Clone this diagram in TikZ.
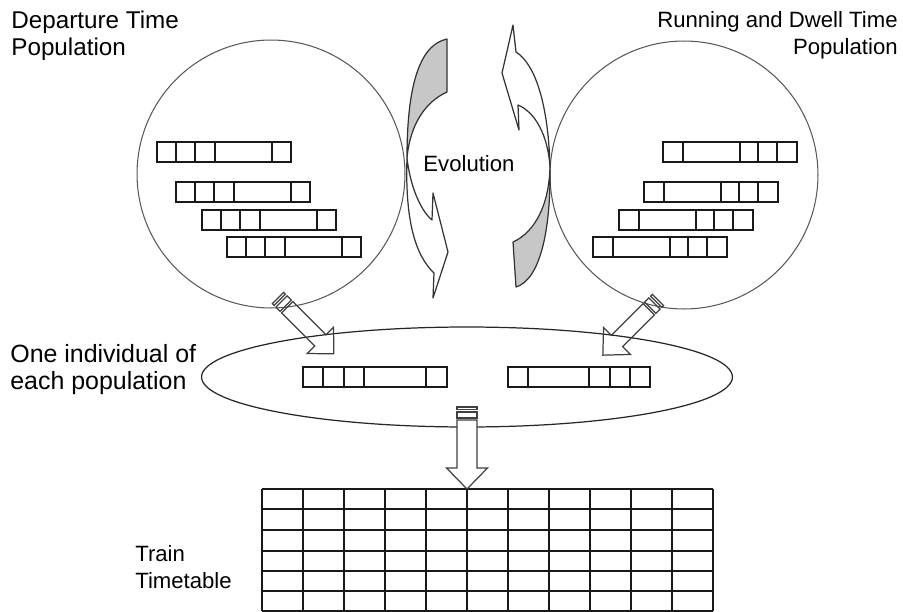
\documentclass[tikz,border=0pt]{standalone}
\usepackage{fontspec}
\setmainfont{Liberation Sans}
\usetikzlibrary{positioning}
\usetikzlibrary{shapes.geometric}

\tikzset{
  lbl/.style={inner sep=0pt, font=\fontsize{#1}{15.3}\selectfont},
  lbl/.default=12.6,
  pop/.style={circle, draw=black!65, line width=0.6pt, minimum size=5.36cm, inner sep=0pt},
  indiv/.style={ellipse, draw=black!85, line width=0.7pt, minimum width=10.62cm, minimum height=2cm, inner sep=0pt},
  gene/.style={draw=black!90, line width=0.9pt},
  cell/.style={draw=black!90, line width=0.8pt},
  twist/.style={draw=black!80, line width=0.7pt, line join=round},
  blockline/.style={draw=black!75, line width=0.7pt},
}

% one chromosome: x, y, width, divider offsets
\newcommand{\genes}[4]{%
  \draw[gene] (#1,#2) rectangle ++(#3,20);
  \foreach \d in {#4} \draw[gene] (#1+\d,#2) -- ++(0,20);
}

% striped block arrow: [style], start, angle, shaft end, tip, shaft half width, head half width
\newcommand{\stripearrow}[7][]{%
  \begin{scope}[shift={#2},rotate=#3]
    \draw[blockline,#1] (0,-#6) rectangle (2.5,#6);
    \draw[blockline,#1] (5,-#6) rectangle (11,#6);
    \draw[blockline,#1] (13,-#6) -- (#4,-#6) -- (#4,-#7) -- (#5,0) -- (#4,#7) -- (#4,#6) -- (13,#6) -- cycle;
  \end{scope}}

\begin{document}
\begin{tikzpicture}[x=0.02cm,y=-0.02cm]
\useasboundingbox (0,0) rectangle (903,612);

% populations
\node[pop](depPop) at (271,174){};
\node[pop](runPop) at (684,175){};
\node[indiv](indiv) at (467,377){};

% labels
\node[lbl=13.8,anchor=north west,align=left](depLbl) at (11,11){Departure Time\\Population};
\node[lbl,anchor=north east,align=right](runLbl) at (898,11){Running and Dwell Time\\Population};
\node[lbl](evoLbl) at (469,164){Evolution};
\node[lbl=14.2,anchor=north west,align=left](indivLbl) at (10,344){One individual of\\each population};
\node[lbl,anchor=north west,align=left](ttLbl) at (135,545){Train\\Timetable};

% chromosomes
\genes{157}{142}{134}{19,38,58,115}
\genes{176}{182}{134}{19,38,58,115}
\genes{202}{210}{134}{19,38,58,115}
\genes{227}{237}{134}{19,38,58,115}
\genes{663}{142}{134}{20,77,95,114}
\genes{644}{182}{134}{20,77,95,114}
\genes{619}{210}{134}{20,77,95,114}
\genes{593}{237}{134}{20,77,95,114}
\genes{303}{367}{144}{20,41,61,123}
\genes{508}{367}{142}{20,81,102,122}

% timetable
\foreach \i in {0,...,11} \draw[cell] (262+41*\i,489) -- ++(0,122);
\foreach \y in {489,509,530,551,571,591,611} \draw[cell] (262,\y) -- ++(451,0);

% evolution arrows
\draw[twist,fill=black!22] (447,39) .. controls (418,45) and (407,90) .. (407,158)
  .. controls (410,125) and (425,102) .. (447,92) -- cycle;
\draw[twist,fill=white] (407,158) .. controls (410,185) and (420,210) .. (432,220)
  -- (433,193) -- (448,252) -- (433,298) -- (434,273)
  .. controls (415,255) and (405,220) .. (407,158) -- cycle;
\draw[twist,fill=white] (550,167) .. controls (548,95) and (532,62) .. (516,52)
  -- (513,25) -- (502,73) -- (519,130) -- (518,105)
  .. controls (535,112) and (548,135) .. (550,167) -- cycle;
\draw[twist,fill=black!22] (550,167) .. controls (549,205) and (535,232) .. (513,242)
  -- (516,287) .. controls (540,280) and (551,230) .. (550,167) -- cycle;

% block arrows
\coordinate (depOut) at (278,298);
\coordinate (runOut) at (658,300);
\coordinate (indivOut) at (467,407);
\stripearrow{(depOut)}{-45}{60}{79}{8}{18.5}
\stripearrow{(runOut)}{-135}{58}{78}{8}{19}
\stripearrow[fill=white]{(indivOut)}{-90}{61}{82}{10}{20.5}
\end{tikzpicture}
\end{document}
